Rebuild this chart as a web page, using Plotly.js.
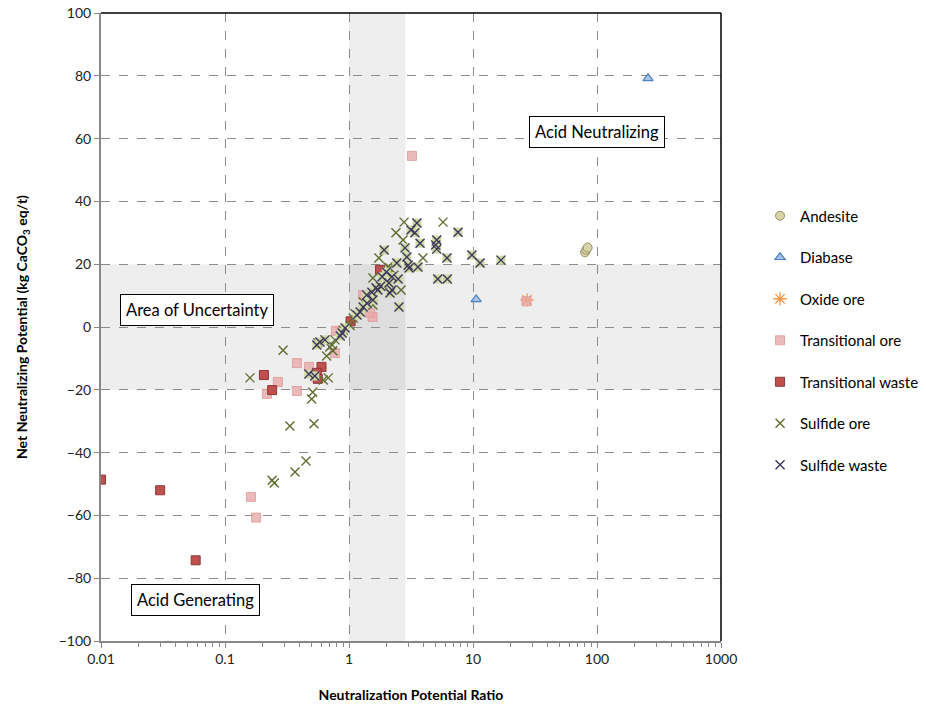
<!DOCTYPE html>
<html>
<head>
<meta charset="utf-8">
<script src="https://cdn.plot.ly/plotly-3.0.1.min.js"></script>
<style>html,body{margin:0;padding:0;background:#fff;}#chart{width:926px;height:708px;}</style>
</head>
<body>
<div id="chart"></div>
<script>
// ---- data ----
const andesiteX = [80, 82, 84];
const andesiteY = [23.8, 24.6, 25.3];

const diabaseX = [258, 10.6];
const diabaseY = [79.2, 8.8];

const oxideX = [27.3];
const oxideY = [8.6];

const transOreX = [3.22, 27, 0.162, 0.178, 0.38, 0.38, 0.218, 0.267, 0.476, 0.785, 0.77, 1.3, 1.55, 1.48];
const transOreY = [54.5, 8.2, -54.1, -60.7, -11.5, -20.4, -21.3, -17.5, -12.7, -1.2, -8.3, 10.2, 3.2, 4.5];

const transWasteX = [0.01, 0.03, 0.058, 0.206, 0.24, 0.6, 0.55, 0.56, 1.78, 1.03];
const transWasteY = [-48.6, -52, -74.3, -15.3, -20.1, -12.7, -14.6, -16.5, 18.2, 1.8];

const sulfOreX = [0.159, 0.294, 0.334, 0.522, 0.24, 0.25, 0.367, 0.45, 0.51, 0.5, 0.68, 0.62, 0.7, 0.74, 0.66, 0.9, 0.77, 0.73, 1.08, 1.12, 1.56, 1.56, 1.74, 2.06, 2.14, 2.63, 2.39, 2.78, 2.73, 3.95, 5.73, 0.56, 1.3, 1.95, 2.3, 1.02];
const sulfOreY = [-16.2, -7.4, -31.5, -30.8, -48.8, -49.7, -46.2, -42.7, -20.8, -22.9, -16.2, -16.9, -6.4, -7.6, -9.2, -1, -4.1, -5.7, 2.9, 4.2, 7, 15.6, 22, 19.1, 18.8, 11.8, 30, 33.4, 27.7, 22, 33.4, -5, 8, 13, 16.5, 0.5];

const sulfWasteX = [3.53, 3.16, 3.4, 7.57, 3.74, 5.1, 5.0, 5.1, 2.83, 1.92, 2.93, 3.0, 6.17, 9.8, 11.4, 16.8, 5.2, 6.2, 3.05, 3.6, 2.43, 2.53, 2.22, 2.49, 2.1, 2.14, 2.22, 1.85, 1.71, 1.53, 1.39, 1.56, 1.3, 1.4, 1.23, 1.16, 0.93, 0.88, 0.583, 0.55, 0.64, 0.475, 0.53, 0.85, 1.8, 1.65, 2.0];
const sulfWasteY = [33.1, 30.9, 30, 30.2, 26.7, 27.7, 26.1, 24.8, 25.2, 24.5, 22.3, 19.7, 22, 22.9, 20.4, 21.3, 15.3, 15.3, 18.8, 19.1, 20.4, 6.4, 16, 15.3, 14, 10.8, 11.8, 16, 11.8, 11.1, 10.2, 8.6, 6.4, 7.6, 4.8, 3.8, -0.3, -1.9, -4.8, -5.7, -4.1, -15, -15.6, -2.9, 13, 12.5, 17.5];

const xTickVals = [0.01, 0.1, 1, 10, 100, 1000];
const xTickText = ['0.01', '0.1', '1', '10', '100', '1000'];
const yTickVals = [-100, -80, -60, -40, -20, 0, 20, 40, 60, 80, 100];

// ---- traces ----
const traces = [
  {name:'Andesite', x:andesiteX, y:andesiteY, type:'scatter', mode:'markers', legendgroup:'a',
   marker:{symbol:'circle', size:9, color:'#d8d3a6', line:{color:'#9a9061', width:1}}},
  {name:'Diabase', x:diabaseX, y:diabaseY, type:'scatter', mode:'markers', legendgroup:'b',
   marker:{symbol:'triangle-up', size:9, color:'#a8c3e6', line:{color:'#4f81bd', width:1.2}}},
  {name:'Oxide ore', x:oxideX, y:oxideY, type:'scatter', mode:'markers', legendgroup:'c',
   marker:{symbol:'asterisk-open', size:11, color:'#f79646', line:{color:'#f79646', width:1.3}}},
  {name:'Transitional ore', x:transOreX, y:transOreY, type:'scatter', mode:'markers', legendgroup:'d',
   marker:{symbol:'square', size:9, color:'rgba(230,170,170,0.8)', line:{color:'rgba(225,150,150,0.8)', width:1}}},
  {name:'Transitional waste', x:transWasteX, y:transWasteY, type:'scatter', mode:'markers', legendgroup:'e',
   marker:{symbol:'square', size:9, color:'#c0504d', line:{color:'#8c3836', width:1}}},
  {name:'Sulfide ore', x:sulfOreX, y:sulfOreY, type:'scatter', mode:'markers', legendgroup:'f',
   marker:{symbol:'x-thin-open', size:9, color:'#5e6d2f', line:{color:'#5e6d2f', width:1.4}}},
  {name:'Sulfide waste', x:sulfWasteX, y:sulfWasteY, type:'scatter', mode:'markers', legendgroup:'g', showlegend:false,
   marker:{symbol:'square', size:9, color:'#cddca6', line:{width:0}}},
  {name:'Sulfide waste', x:sulfWasteX, y:sulfWasteY, type:'scatter', mode:'markers', legendgroup:'g',
   marker:{symbol:'x-thin-open', size:9, color:'#40365a', line:{color:'#40365a', width:1.4}}}
];

const font = 'Lato, "Open Sans", "DejaVu Sans", sans-serif';

const layout = {
  width: 926, height: 708,
  margin: {l:101, r:205, t:13, b:67, autoexpand:false},
  paper_bgcolor:'#fff', plot_bgcolor:'#fff',
  font: {family: font, size: 14, color:'#000'},
  showlegend: true,
  legend: {x:1.063, y:0.703, xanchor:'left', yanchor:'top', font:{size:15, family:font},
           tracegroupgap: 19, bgcolor:'rgba(0,0,0,0)', traceorder:'grouped'},
  xaxis: {type:'log', range:[-2, 3], tickvals:xTickVals, ticktext:xTickText,
          showgrid:true, gridcolor:'#8c8c8c', griddash:'dash', gridwidth:1,
          ticks:'outside', ticklen:5, tickcolor:'#888',
          minor:{ticks:'outside', ticklen:4, tickcolor:'#888', dtick:'D1', showgrid:false},
          showline:true, linecolor:'#888', linewidth:1.5, zeroline:false,
          tickfont:{size:14, color:'#222'},
          title:{text:'<b>Neutralization Potential Ratio</b>', font:{size:14}, standoff:24}},
  yaxis: {range:[-100, 100], tickvals:yTickVals,
          showgrid:true, gridcolor:'#8c8c8c', griddash:'dash', gridwidth:1,
          ticks:'outside', ticklen:5, tickcolor:'#888',
          showline:true, linecolor:'#888', linewidth:2, zeroline:false,
          tickfont:{size:14, color:'#222'},
          title:{text:'<b>Net Neutralizing Potential (kg CaCO<sub>3</sub> eq/t)</b>', font:{size:14}, standoff:28}},
  shapes: [
    {type:'rect', xref:'paper', yref:'y', x0:0, x1:1, y0:-20, y1:20, layer:'below',
     fillcolor:'rgba(0,0,0,0.065)', line:{width:0}},
    {type:'rect', xref:'x', yref:'paper', x0:1, x1:2.85, y0:0, y1:1, layer:'below',
     fillcolor:'rgba(0,0,0,0.065)', line:{width:0}},
    {type:'line', xref:'paper', yref:'paper', x0:0, x1:1, y0:1, y1:1, line:{color:'#000', width:1.5}},
    {type:'line', xref:'paper', yref:'paper', x0:1, x1:1, y0:0, y1:1, line:{color:'#000', width:1.5}}
  ],
  annotations: [
    {x:2, y:62, xref:'x', yref:'y', text:'Acid Neutralizing', showarrow:false,
     font:{size:16.5, family:font}, bgcolor:'#fff', bordercolor:'#000', borderwidth:1, borderpad:5},
    {x:-1.226, y:5.5, xref:'x', yref:'y', text:'Area of Uncertainty', showarrow:false,
     font:{size:16.5, family:font}, bgcolor:'#fff', bordercolor:'#000', borderwidth:1, borderpad:5},
    {x:-1.234, y:-86.8, xref:'x', yref:'y', text:'Acid Generating', showarrow:false,
     font:{size:16.5, family:font}, bgcolor:'#fff', bordercolor:'#000', borderwidth:1, borderpad:5}
  ]
};

Plotly.newPlot('chart', traces, layout, {displayModeBar:false, staticPlot:true});
</script>
</body>
</html>
